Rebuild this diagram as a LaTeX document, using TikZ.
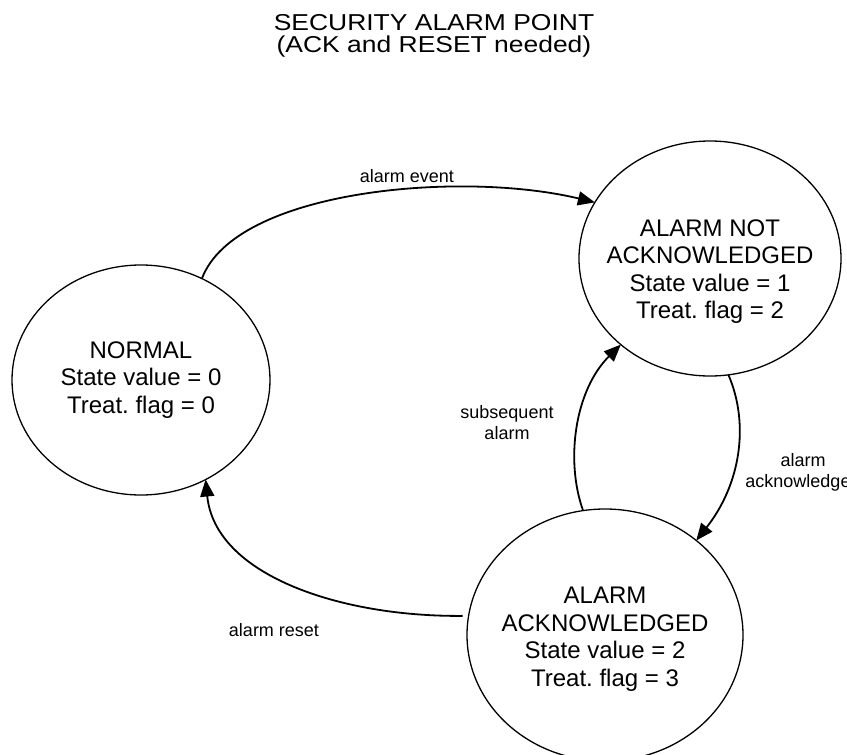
\documentclass[tikz,border=0pt]{standalone}
\usepackage{fontspec}
\setmainfont{Liberation Sans}
\usetikzlibrary{arrows.meta,shapes.geometric}
\frenchspacing

\begin{document}
\begin{tikzpicture}[x=1pt,y=-1pt,
  statenode/.style={ellipse, draw, line width=1.3pt, inner sep=0pt, outer sep=0pt},
  statetext/.style={align=center, inner sep=0pt, font=\fontsize{24}{27.5}\selectfont},
  edgelabel/.style={align=center, inner sep=0pt, anchor=base, font=\fontsize{18}{21}\selectfont},
  titletext/.style={align=center, inner sep=0pt, anchor=base, font=\fontsize{23}{22}\selectfont},
  transition/.style={line width=1.8pt, -{Triangle[length=17pt,width=14pt]}}]

\useasboundingbox (0,0) rectangle (847,755);
\clip (0,0) rectangle (847,755);

% heading (base anchor sits on the last line)
\node[titletext] (title) at (434,52)
  {\scalebox{1.15}[1]{SECURITY ALARM POINT}\\\scalebox{1.15}[1]{(ACK and RESET needed)}};

% states
\node[statenode, minimum width=258pt, minimum height=230pt] (normal) at (141,380) {};
\node[statetext] (normal-text) at (141,380) {NORMAL\\State value = 0\\Treat. flag = 0};

\node[statenode, minimum width=262pt, minimum height=235pt] (ana) at (710,258.5) {};
\node[statetext] (ana-text) at (710,271.5) {ALARM NOT\\ACKNOWLEDGED\\State value = 1\\Treat. flag = 2};

\node[statenode, minimum width=276pt, minimum height=252pt] (aa) at (605,635) {};
\node[statetext] (aa-text) at (605,639) {ALARM\\ACKNOWLEDGED\\State value = 2\\Treat. flag = 3};

% transitions
\draw[transition] (normal.59) .. controls (235,190) and (460,170) .. (ana.154);
\draw[transition] (ana.-81) .. controls (750,425) and (740,485) .. (aa.46);
\draw[transition] (aa.100) .. controls (565,460) and (575,390) .. (ana.224);
\draw[transition, shorten <=6pt] (aa.172) .. controls (340,617) and (215,575) .. (normal.303);

% transition labels (base anchor sits on the last line)
\node[edgelabel] (lbl-event) at (407,182) {alarm event};
\node[edgelabel] (lbl-subseq) at (507,439) {subsequent\\alarm};
\node[edgelabel] (lbl-ack) at (803,487) {alarm\\acknowledged};
\node[edgelabel] (lbl-reset) at (274,636) {alarm reset};
\end{tikzpicture}
\end{document}
